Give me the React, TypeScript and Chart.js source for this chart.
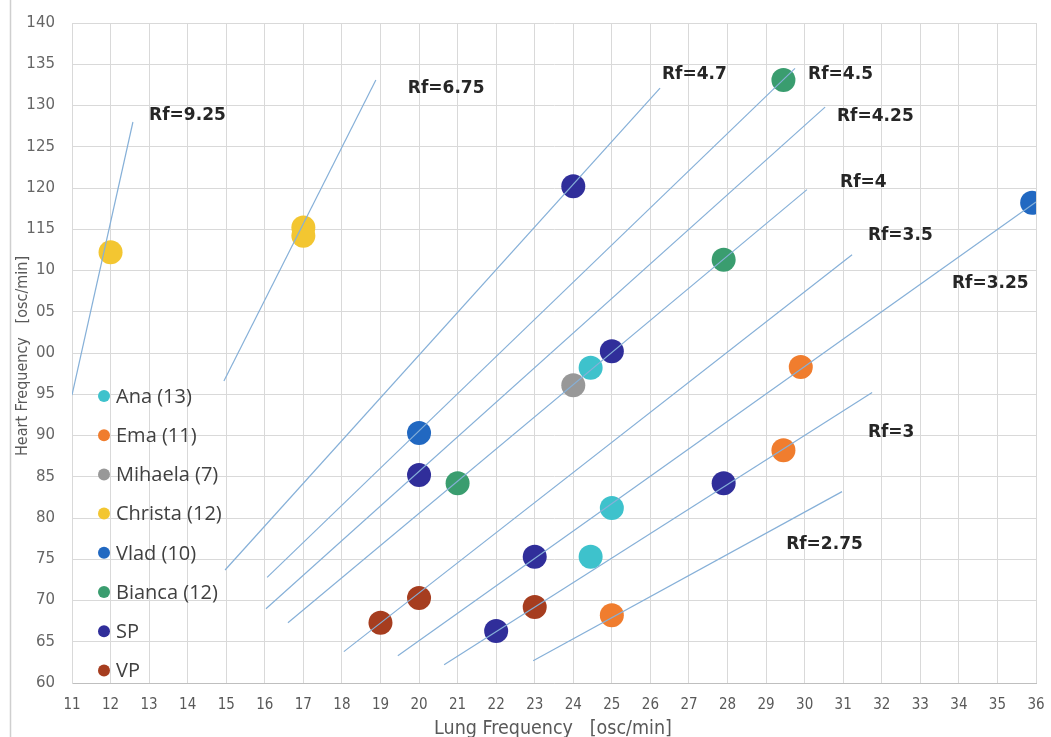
import React, { useEffect, useRef } from "react";
import { Chart, registerables } from "chart.js";

Chart.register(...registerables);

// ---- Data ----
const seriesNames = ["Ana (13)", "Ema (11)", "Mihaela (7)", "Christa (12)", "Vlad (10)", "Bianca (12)", "SP", "VP"];
const seriesColors = ["#3EC2CC", "#F07D2E", "#989898", "#F3C631", "#2168C1", "#3A9D6F", "#302E9A", "#A63D1F"];

const anaLung = [24.45, 25, 24.45];
const anaHeart = [98.2, 81.2, 75.3];
const emaLung = [29.9, 29.45, 25];
const emaHeart = [98.3, 88.2, 68.2];
const mihaelaLung = [24];
const mihaelaHeart = [96.1];
const christaLung = [12, 17, 17];
const christaHeart = [112.2, 115.2, 114.2];
const vladLung = [20, 35.9];
const vladHeart = [90.3, 118.2];
const biancaLung = [29.45, 27.9, 21];
const biancaHeart = [133.1, 111.3, 84.2];
const spLung = [24, 25, 20, 27.9, 23, 22];
const spHeart = [120.2, 100.2, 85.2, 84.2, 75.3, 66.3];
const vpLung = [20, 19, 23];
const vpHeart = [70.3, 67.3, 69.2];

const seriesLung = [anaLung, emaLung, mihaelaLung, christaLung, vladLung, biancaLung, spLung, vpLung];
const seriesHeart = [anaHeart, emaHeart, mihaelaHeart, christaHeart, vladHeart, biancaHeart, spHeart, vpHeart];

// Rf reference lines
const rfLabels = ["Rf=9.25", "Rf=6.75", "Rf=4.7", "Rf=4.5", "Rf=4.25", "Rf=4", "Rf=3.5", "Rf=3.25", "Rf=3", "Rf=2.75"];
const rfStartLung = [11.0, 14.94, 14.97, 16.06, 16.03, 16.6, 18.05, 19.45, 20.65, 22.96];
const rfStartHeart = [94.9, 96.6, 73.7, 72.8, 69.0, 67.3, 63.8, 63.3, 62.2, 62.7];
const rfEndLung = [12.58, 18.88, 26.25, 29.75, 30.53, 30.06, 31.23, 36.0, 31.75, 30.97];
const rfEndHeart = [128.0, 133.1, 132.1, 134.5, 129.8, 119.8, 111.9, 118.3, 95.2, 83.2];
const rfTextLung = [13.0, 19.71, 26.3, 30.09, 30.84, 30.92, 31.64, 33.82, 31.64, 29.52];
const rfTextHeart = [128.8, 132.0, 133.7, 133.8, 128.7, 120.7, 114.2, 108.4, 90.3, 76.8];

// Axis
const xMin = 11, xMax = 36, xStep = 1;
const yMin = 60, yMax = 140, yStep = 5;
const xTitle = "Lung Frequency   [osc/min]";
const yTitle = "Heart Frequency   [osc/min]";

const narrowFont = '"Liberation Sans Narrow", "DejaVu Sans Condensed", "Roboto", sans-serif';

const overlayPlugin = {
  id: "overlay",
  afterDatasetsDraw(chart: any) {
    const ctx = chart.ctx;
    const xs = chart.scales.x;
    const ys = chart.scales.y;
    ctx.save();
    // Rf labels
    ctx.font = 'bold 17px "DejaVu Sans", sans-serif';
    ctx.fillStyle = "#262626";
    ctx.textAlign = "left";
    ctx.textBaseline = "middle";
    rfLabels.forEach((t, i) => {
      ctx.fillText(t, xs.getPixelForValue(rfTextLung[i]), ys.getPixelForValue(rfTextHeart[i]));
    });
    // Legend
    ctx.font = '20px "Open Sans", sans-serif';
    const lx = 104, ly0 = 396, ldy = 39.2;
    seriesNames.forEach((n, i) => {
      const y = ly0 + i * ldy;
      ctx.beginPath();
      ctx.fillStyle = seriesColors[i];
      ctx.arc(lx, y, 6, 0, Math.PI * 2);
      ctx.fill();
      ctx.fillStyle = "#404040";
      ctx.fillText(n, lx + 12, y + 1);
    });
    ctx.restore();
  },
  afterDraw(chart: any) {
    const ctx = chart.ctx;
    const area = chart.chartArea;
    ctx.save();
    // left border of the picture
    ctx.strokeStyle = "#cfcfcf";
    ctx.lineWidth = 1.5;
    ctx.beginPath();
    ctx.moveTo(10.5, 0);
    ctx.lineTo(10.5, 737);
    ctx.stroke();
    // x title
    ctx.font = "19.5px " + narrowFont;
    ctx.fillStyle = "#595959";
    ctx.textAlign = "center";
    ctx.textBaseline = "middle";
    ctx.fillText(xTitle, (area.left + area.right) / 2 - 1, 729);
    // y title with white box
    ctx.font = "16px " + narrowFont;
    ctx.translate(23, 356);
    ctx.rotate(-Math.PI / 2);
    const w = ctx.measureText(yTitle).width;
    ctx.fillStyle = "#ffffff";
    ctx.fillRect(-w / 2 - 2, -10, w + 4, 22);
    ctx.fillStyle = "#595959";
    ctx.fillText(yTitle, 0, 0);
    ctx.restore();
  },
};

export default function App() {
  const ref = useRef<HTMLCanvasElement | null>(null);
  useEffect(() => {
    if (!ref.current) return;
    const lineSets = rfLabels.map((l, i) => ({
      label: l,
      data: [
        { x: rfStartLung[i], y: rfStartHeart[i] },
        { x: rfEndLung[i], y: rfEndHeart[i] },
      ],
      showLine: true,
      borderColor: "#86B0D8",
      borderWidth: 1.2,
      pointRadius: 0,
      order: 0,
    }));
    const pointSets = seriesNames.map((n, i) => ({
      label: n,
      data: seriesLung[i].map((x, j) => ({ x, y: seriesHeart[i][j] })),
      backgroundColor: seriesColors[i],
      borderColor: seriesColors[i],
      borderWidth: 0,
      pointRadius: 12,
      showLine: false,
      order: 1,
    }));
    const chart = new Chart(ref.current, {
      type: "scatter",
      data: { datasets: [...lineSets, ...pointSets] as any },
      plugins: [overlayPlugin],
      options: {
        animation: false,
        responsive: false,
        devicePixelRatio: 1,
        layout: { padding: { top: 23, right: 15, left: 0, bottom: 0 } },
        plugins: { legend: { display: false }, tooltip: { enabled: false } },
        scales: {
          x: {
            type: "linear",
            min: xMin,
            max: xMax,
            ticks: { stepSize: xStep, color: "#595959", font: { size: 15, family: narrowFont }, padding: 13, maxRotation: 0 },
            grid: { color: "#d9d9d9", drawTicks: false },
            border: { color: "#bfbfbf" },
            afterFit: (s: any) => { s.height = 54; s.paddingRight = 0; s.paddingLeft = 0; },
          },
          y: {
            type: "linear",
            min: yMin,
            max: yMax,
            ticks: { stepSize: yStep, color: "#666666", font: { size: 15, family: '"DejaVu Sans", sans-serif' }, padding: 17 },
            grid: { color: "#d9d9d9", drawTicks: false },
            border: { color: "#d9d9d9" },
            afterFit: (s: any) => { s.width = 72; s.paddingTop = 0; s.paddingBottom = 0; },
          },
        },
      } as any,
    });
    return () => chart.destroy();
  }, []);
  return (
    <div style={{ position: "absolute", left: 0, top: 0, width: 1051, height: 737, background: "#fff" }}>
      <canvas ref={ref} width={1051} height={737} style={{ width: 1051, height: 737, display: "block" }} />
    </div>
  );
}
